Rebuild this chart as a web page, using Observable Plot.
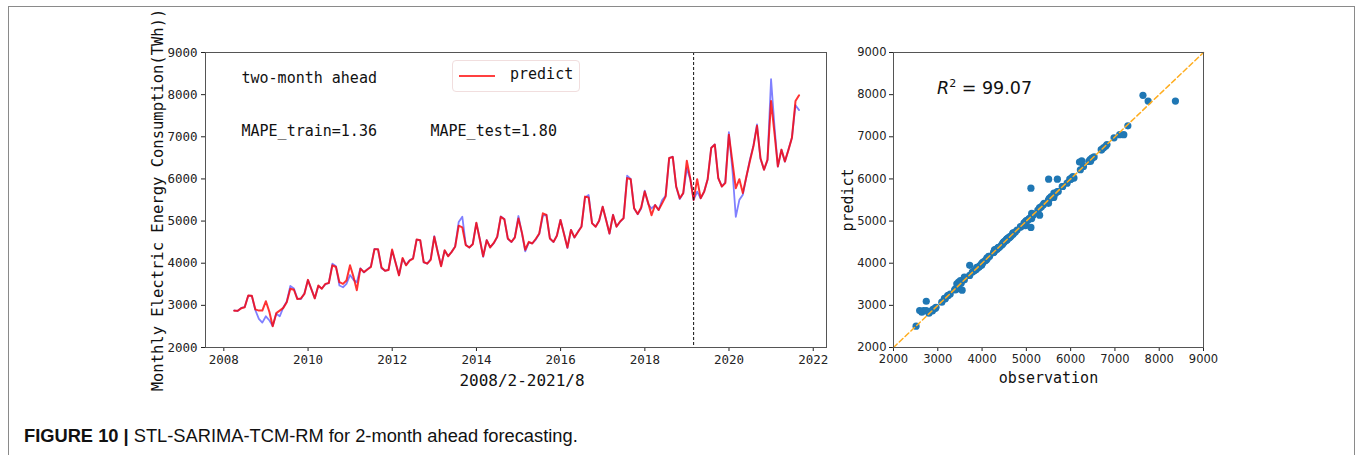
<!DOCTYPE html>
<html>
<head>
<meta charset="utf-8">
<script src="https://cdn.jsdelivr.net/npm/d3@7"></script>
<script src="https://cdn.jsdelivr.net/npm/@observablehq/plot@0.6"></script>
<style>
  body { margin: 0; background: #fff; }
  #fig { position: relative; width: 1357px; height: 455px; overflow: hidden; background: #fff; }
  #border { position: absolute; left: 8px; top: 6px; width: 1347px; height: 470px;
            border: 1.5px solid #8a8a8a; border-bottom: none; box-sizing: border-box; }
  #left { position: absolute; left: 0; top: 0; }
  #right { position: absolute; left: 840px; top: 0; }
  #legend { position: absolute; left: 452px; top: 60px; width: 128px; height: 32px;
            border: 1px solid #f1dede; border-radius: 4px; box-sizing: border-box; background: #fff; }
  #legend .ln { position: absolute; left: 6px; top: 14px; width: 36px; height: 2px; background: rgba(255,0,0,0.75); }
  #legend .tx { position: absolute; left: 57px; top: 4px; font: 15px "DejaVu Sans Mono"; color: #111; }
  #caption { position: absolute; left: 24px; top: 425px; font: 18.3px "Liberation Sans", Arial, sans-serif; color: #111; white-space: nowrap; }
  #caption b { font-weight: bold; }
</style>
</head>
<body>
<div id="fig">
  <div id="border"></div>
  <div id="left"></div>
  <div id="right"></div>
  <div id="legend"><div class="ln"></div><div class="tx">predict</div></div>
  <div id="caption"><b>FIGURE 10 |</b> STL-SARIMA-TCM-RM for 2-month ahead forecasting.</div>
</div>
<script>
// ---------------- data (monthly, month-end dates, Mar 2008 .. Aug 2021) ----------------
const startMonth = "2008-03";
const testStartMonth = "2019-02";
const observed = [
  2880, 2865, 2940, 2960, 3230, 3225, 2890, 2680, 2590, 2740,          // 2008 Mar-Dec
  2640, 2510, 2800, 2740, 2950, 3090, 3460, 3400, 3160, 3150, 3280, 3600, // 2009
  3380, 3170, 3460, 3400, 3500, 3530, 3990, 3930, 3470, 3430, 3510, 3720, // 2010
  3600, 3550, 3880, 3780, 3860, 3920, 4340, 4330, 3880, 3820, 3850, 4300, // 2011
  4010, 3720, 4110, 3960, 4070, 4120, 4560, 4540, 4020, 3990, 4100, 4640, // 2012
  4260, 3940, 4300, 4170, 4270, 4400, 4980, 5103, 4440, 4370, 4460, 4950, // 2013
  4560, 4150, 4550, 4380, 4470, 4620, 5110, 5050, 4580, 4500, 4620, 5120, // 2014
  4700, 4280, 4490, 4470, 4560, 4700, 5120, 5150, 4590, 4500, 4660, 5030, // 2015
  4700, 4360, 4790, 4610, 4750, 4870, 5560, 5620, 4950, 4870, 5000, 5340, // 2016
  5020, 4700, 5150, 4870, 4980, 5070, 6075, 6000, 5300, 5160, 5300, 5720, // 2017
  5400, 5300, 5380, 5260, 5500, 5600, 6490, 6530, 5810, 5520, 5660, 6250, // 2018
  5980, 5500, 5700, 5540, 5700, 6000, 6740, 6820, 6020, 5820, 5920, 7108, // 2019
  6200, 5103, 5503, 5622, 6050, 6450, 6790, 7292, 6480, 6220, 6440, 8366, // 2020
  7200, 6290, 6690, 6410, 6700, 6980, 7750, 7633                          // 2021 Jan-Aug
];
const predicted = [
  2870, 2872, 2930, 2955, 3234, 3230, 2905, 2876, 2876, 3098,
  2838, 2505, 2815, 2876, 2940, 3075, 3394, 3370, 3150, 3165, 3270, 3605,
  3370, 3165, 3470, 3394, 3510, 3530, 3950, 3910, 3550, 3510, 3590, 3950,
  3670, 3360, 3871, 3790, 3850, 3910, 4332, 4332, 3900, 3820, 3840, 4325,
  4000, 3711, 4125, 3950, 4060, 4110, 4564, 4547, 4029, 3990, 4080, 4626,
  4250, 3926, 4308, 4165, 4268, 4390, 4890, 4850, 4428, 4373, 4450, 4960,
  4550, 4165, 4547, 4373, 4480, 4626, 5103, 5041, 4588, 4506, 4610, 5060,
  4720, 4320, 4506, 4468, 4580, 4707, 5184, 5144, 4588, 4506, 4650, 5024,
  4690, 4373, 4787, 4612, 4740, 4864, 5580, 5560, 4945, 4864, 5010, 5342,
  5010, 4707, 5144, 4864, 4990, 5065, 6020, 5994, 5304, 5168, 5320, 5700,
  5420, 5140, 5382, 5263, 5420, 5580, 6497, 6521, 5820, 5542, 5663, 6430,
  5994, 5503, 5994, 5543, 5700, 5994, 6736, 6815, 6020, 5820, 5900, 7050,
  6400, 5781, 5994, 5663, 6057, 6420, 6774, 7260, 6497, 6218, 6457, 7848,
  7050, 6297, 6695, 6416, 6690, 6975, 7848, 7985
];
const yearTicks = [2008, 2010, 2012, 2014, 2016, 2018, 2020, 2022];
const valueTicks = [2000, 3000, 4000, 5000, 6000, 7000, 8000, 9000];
const axisRange = [2000, 9000];
const texts = {
  title: "two-month ahead",
  mapeTrain: "MAPE_train=1.36",
  mapeTest: "MAPE_test=1.80",
  xLabel: "2008/2-2021/8",
  yLabel: "Monthly Electric Energy Consumption(TWh))",
  sx: "observation",
  sy: "predict",
  r2: "99.07"
};

// ---------------- build table ----------------
const parseMonth = d3.utcParse("%Y-%m");
const monthEnd = (m0, i) => d3.utcDay.offset(d3.utcMonth.offset(m0, i + 1), -1);
const m0 = parseMonth(startMonth);
const rows = observed.map((v, i) => ({ date: monthEnd(m0, i), obs: v, pred: predicted[i] }));
const testDate = monthEnd(parseMonth(testStartMonth), 0);
const xDomain = [new Date(Date.UTC(2007, 6, 26)), new Date(Date.UTC(2022, 3, 26))];
const yearDates = yearTicks.map(y => new Date(Date.UTC(y, 0, 1)));
const plain = d => String(d);

const mono = "DejaVu Sans Mono";

const left = Plot.plot({
  width: 840, height: 400,
  marginLeft: 205, marginRight: 14, marginTop: 52, marginBottom: 53,
  style: { fontFamily: mono, fontSize: "12.5px", color: "#222", background: "transparent", overflow: "visible" },
  x: { type: "utc", domain: xDomain, ticks: yearDates, tickFormat: "%Y", label: null, tickSize: 4, tickPadding: 4 },
  y: { domain: axisRange, ticks: valueTicks, tickFormat: plain, label: null, tickSize: 4, tickPadding: 4 },
  marks: [
    Plot.line(rows, { x: "date", y: "obs", stroke: "#8080ff", strokeWidth: 1.8 }),
    Plot.line(rows, { x: "date", y: "pred", stroke: "#ff0000", strokeOpacity: 0.8, strokeWidth: 2 }),
    Plot.ruleX([testDate], { stroke: "#111", strokeWidth: 1, strokeDasharray: "3,2" }),
    Plot.frame({ stroke: "#555", strokeWidth: 1 }),
    Plot.text([texts.title], { frameAnchor: "top-left", dx: 36, dy: 26, textAnchor: "start", lineAnchor: "middle", fontSize: 15, fill: "#111" }),
    Plot.text([texts.mapeTrain], { frameAnchor: "top-left", dx: 36, dy: 79, textAnchor: "start", lineAnchor: "middle", fontSize: 15, fill: "#111" }),
    Plot.text([texts.mapeTest], { frameAnchor: "top-left", dx: 225, dy: 79, textAnchor: "start", lineAnchor: "middle", fontSize: 15, fill: "#111" }),
    Plot.text([texts.xLabel], { frameAnchor: "bottom", dx: 6, dy: 33, textAnchor: "middle", lineAnchor: "middle", fontSize: 16, fill: "#111" }),
    Plot.text([texts.yLabel], { frameAnchor: "left", dx: -47, rotate: -90, textAnchor: "middle", lineAnchor: "middle", fontSize: 15.5, fill: "#111" })
  ]
});
document.getElementById("left").appendChild(left);

const right = Plot.plot({
  width: 380, height: 400,
  marginLeft: 53, marginRight: 17, marginTop: 52, marginBottom: 53,
  style: { fontFamily: "DejaVu Sans", fontSize: "11.5px", color: "#222", background: "transparent", overflow: "visible" },
  x: { domain: axisRange, ticks: valueTicks, tickFormat: plain, label: null, tickSize: 4, tickPadding: 3 },
  y: { domain: axisRange, ticks: valueTicks, tickFormat: plain, label: null, tickSize: 4, tickPadding: 3 },
  marks: [
    Plot.dot(rows, { x: "obs", y: "pred", r: 3.6, fill: "#1f77b4", stroke: "none" }),
    Plot.line(axisRange.map(v => [v, v]), { stroke: "#ffad1f", strokeWidth: 1.5, strokeDasharray: "5,3" }),
    Plot.frame({ stroke: "#555", strokeWidth: 1 }),
    Plot.text([texts.sx], { frameAnchor: "bottom", dy: 31, textAnchor: "middle", lineAnchor: "middle", fontFamily: mono, fontSize: 15, fill: "#111" }),
    Plot.text([texts.sy], { frameAnchor: "left", dx: -45, rotate: -90, textAnchor: "middle", lineAnchor: "middle", fontFamily: mono, fontSize: 15, fill: "#111" })
  ]
});
document.getElementById("right").appendChild(right);

// R^2 annotation with italic R and superscript
const t = d3.select(right).append("text")
  .attr("x", 97).attr("y", 94).attr("text-anchor", "start")
  .attr("font-family", "DejaVu Sans").attr("font-size", 17.5).attr("fill", "#111");
t.append("tspan").attr("font-style", "italic").text("R");
t.append("tspan").attr("font-size", 11).attr("dy", -7).text("2");
t.append("tspan").attr("dy", 7).text(" = " + texts.r2);
</script>
</body>
</html>
